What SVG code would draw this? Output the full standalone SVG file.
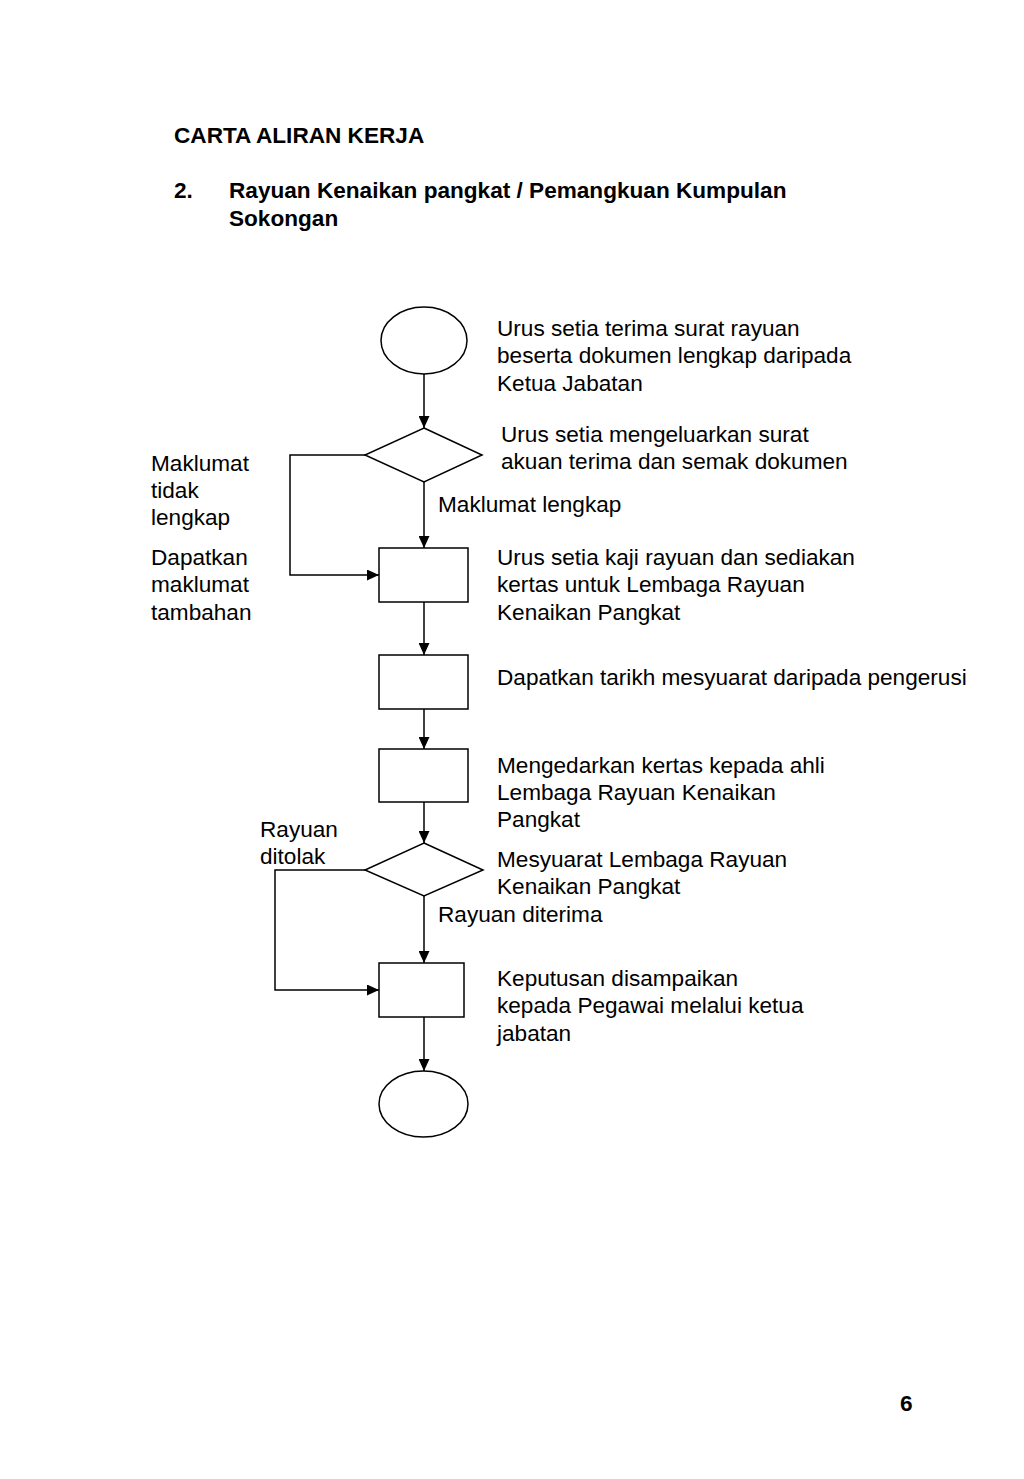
<svg xmlns="http://www.w3.org/2000/svg" width="1024" height="1479" viewBox="0 0 1024 1479">
<style>
.s{fill:#fff;stroke:#000;stroke-width:1.5}
.c{fill:none;stroke:#000;stroke-width:1.5}
text{font-family:"Liberation Sans",Arial,sans-serif;fill:#000}
.t{font-size:22.6px}
.b{font-size:22.6px;font-weight:bold}
</style>
<defs>
<marker id="ah" markerWidth="12" markerHeight="11" refX="12" refY="5.5" orient="auto" markerUnits="userSpaceOnUse">
<path d="M0,0 L12,5.5 L0,11 Z" fill="#000"/>
</marker>
</defs>
<rect width="1024" height="1479" fill="#fff"/>
<g id="title">
<text class="b" x="174" y="143">CARTA ALIRAN KERJA</text>
<text class="b" x="174" y="198">2.</text>
<text class="b" x="229" y="198">Rayuan Kenaikan pangkat / Pemangkuan Kumpulan</text>
<text class="b" x="229" y="226">Sokongan</text>
</g>
<g id="connectors">
<line class="c" x1="424" y1="374" x2="424" y2="428" marker-end="url(#ah)"/>
<line class="c" x1="424" y1="482" x2="424" y2="548" marker-end="url(#ah)"/>
<polyline class="c" points="365,455 290,455 290,575 379,575" marker-end="url(#ah)"/>
<line class="c" x1="424" y1="602" x2="424" y2="655" marker-end="url(#ah)"/>
<line class="c" x1="424" y1="709" x2="424" y2="749" marker-end="url(#ah)"/>
<line class="c" x1="424" y1="802" x2="424" y2="843" marker-end="url(#ah)"/>
<line class="c" x1="424" y1="896" x2="424" y2="963" marker-end="url(#ah)"/>
<polyline class="c" points="365,870 275,870 275,990 379,990" marker-end="url(#ah)"/>
<line class="c" x1="424" y1="1017" x2="424" y2="1071" marker-end="url(#ah)"/>
</g>
<g id="n-start">
<ellipse class="s" cx="424" cy="340.5" rx="43" ry="33.5"/>
<text class="t" x="497" y="336">Urus setia terima surat rayuan</text>
<text class="t" x="497" y="363">beserta dokumen lengkap daripada</text>
<text class="t" x="497" y="391">Ketua Jabatan</text>
</g>
<g id="n-semak">
<polygon class="s" points="424,428 482,455 424,482 365,455"/>
<text class="t" x="501" y="442">Urus setia mengeluarkan surat</text>
<text class="t" x="501" y="469">akuan terima dan semak dokumen</text>
</g>
<g id="l-lengkap"><text class="t" x="438" y="512">Maklumat lengkap</text></g>
<g id="l-tidak">
<text class="t" x="151" y="471">Maklumat</text>
<text class="t" x="151" y="498">tidak</text>
<text class="t" x="151" y="525">lengkap</text>
<text class="t" x="151" y="565">Dapatkan</text>
<text class="t" x="151" y="592">maklumat</text>
<text class="t" x="151" y="620">tambahan</text>
</g>
<g id="n-kaji">
<rect class="s" x="379" y="548" width="89" height="54"/>
<text class="t" x="497" y="565">Urus setia kaji rayuan dan sediakan</text>
<text class="t" x="497" y="592">kertas untuk Lembaga Rayuan</text>
<text class="t" x="497" y="620">Kenaikan Pangkat</text>
</g>
<g id="n-tarikh">
<rect class="s" x="379" y="655" width="89" height="54"/>
<text class="t" x="497" y="685">Dapatkan tarikh mesyuarat daripada pengerusi</text>
</g>
<g id="n-edar">
<rect class="s" x="379" y="749" width="89" height="53"/>
<text class="t" x="497" y="773">Mengedarkan kertas kepada ahli</text>
<text class="t" x="497" y="800">Lembaga Rayuan Kenaikan</text>
<text class="t" x="497" y="827">Pangkat</text>
</g>
<g id="n-mesyuarat">
<polygon class="s" points="424,843 483,870 424,896 365,870"/>
<text class="t" x="497" y="867">Mesyuarat Lembaga Rayuan</text>
<text class="t" x="497" y="894">Kenaikan Pangkat</text>
</g>
<g id="l-ditolak">
<text class="t" x="260" y="837">Rayuan</text>
<text class="t" x="260" y="864">ditolak</text>
</g>
<g id="l-diterima"><text class="t" x="438" y="922">Rayuan diterima</text></g>
<g id="n-keputusan">
<rect class="s" x="379" y="963" width="85" height="54"/>
<text class="t" x="497" y="986">Keputusan disampaikan</text>
<text class="t" x="497" y="1013">kepada Pegawai melalui ketua</text>
<text class="t" x="497" y="1041">jabatan</text>
</g>
<g id="n-end">
<ellipse class="s" cx="423.5" cy="1104" rx="44.5" ry="33"/>
</g>
<text class="b" x="900" y="1411">6</text>
</svg>
